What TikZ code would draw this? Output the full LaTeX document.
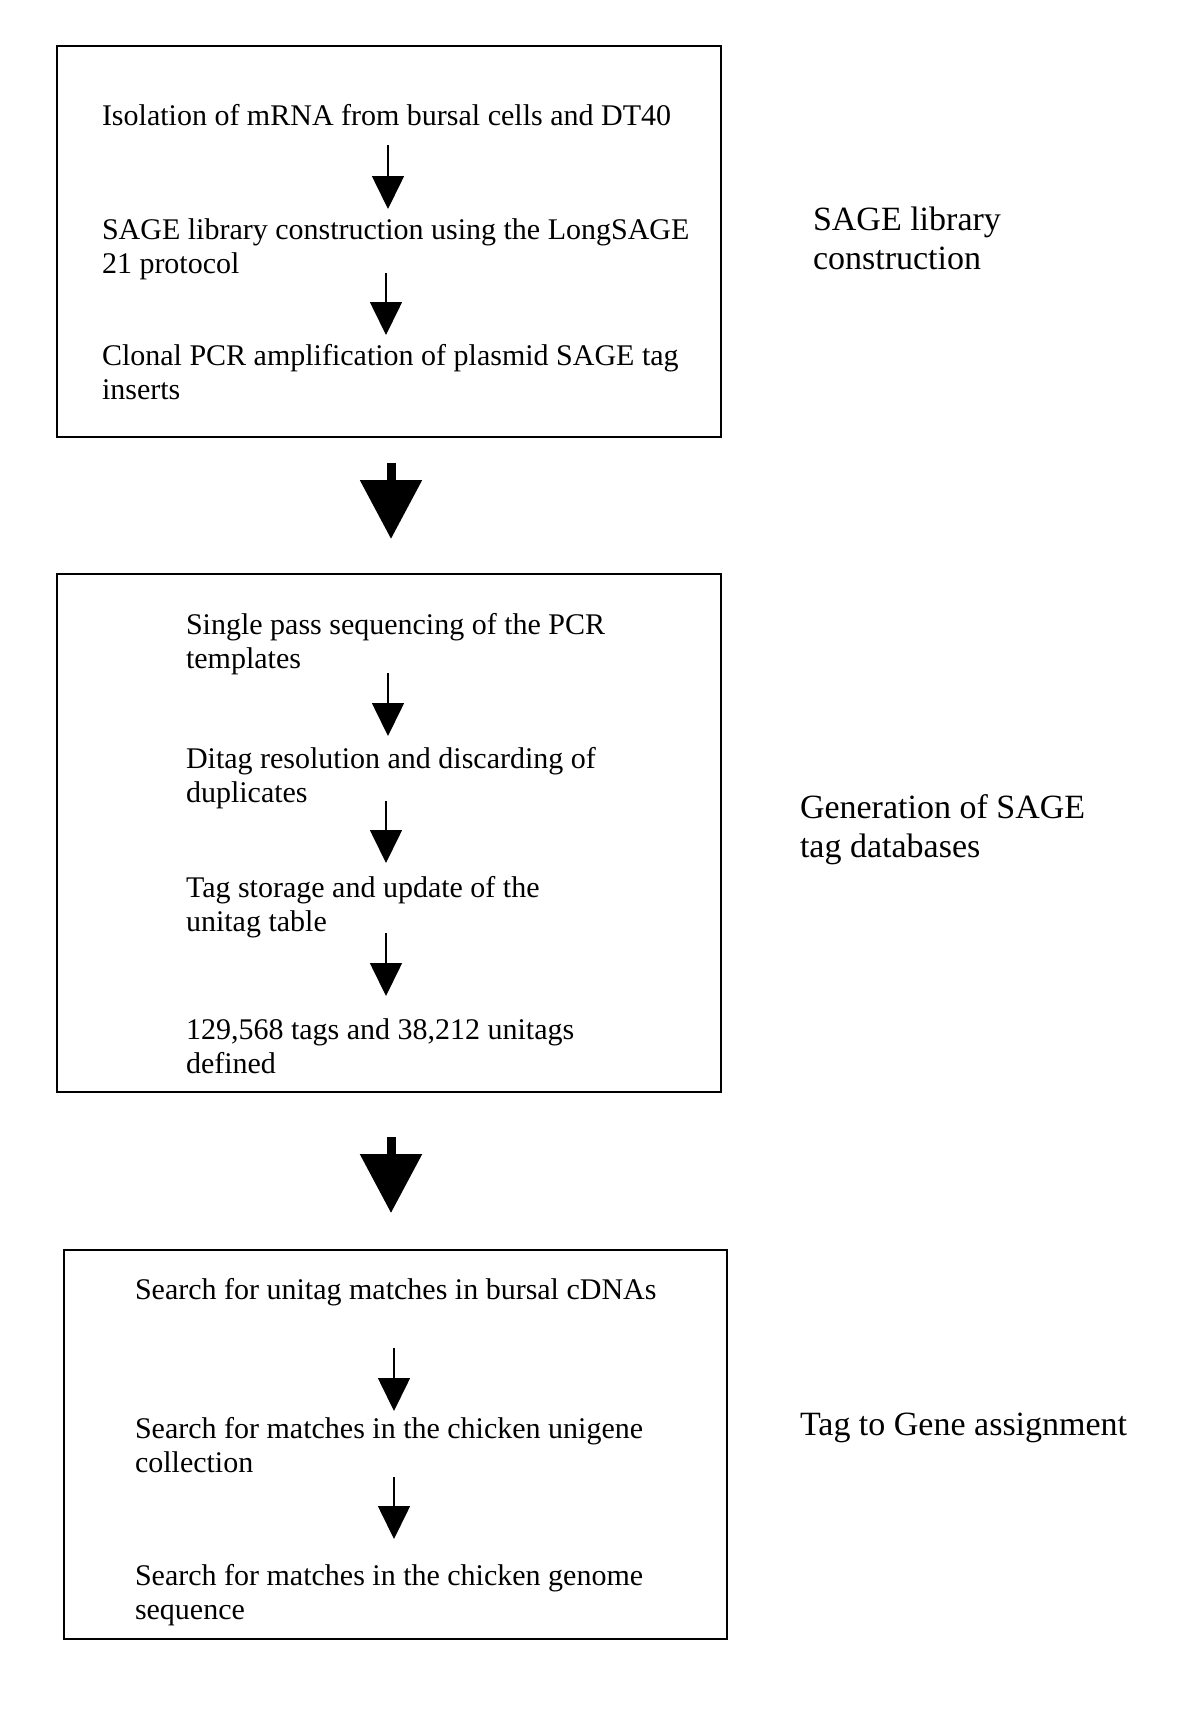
\documentclass[tikz,border=0pt]{standalone}
\usepackage{fontspec}
\setmainfont{Liberation Serif}
\usetikzlibrary{arrows.meta}
\newcommand\twol[2]{\vtop{\hbox{\strut #1}\hbox{\strut #2}}}
\begin{document}
\begin{tikzpicture}[x=0.5pt,y=-0.5pt,
  box/.style={draw,line width=1pt,inner sep=0pt,outer sep=0pt},
  steptext/.style={anchor=base west,inner sep=0pt,outer sep=0pt,font=\fontsize{15}{17}\selectfont},
  phase/.style={anchor=base west,inner sep=0pt,outer sep=0pt,font=\fontsize{17}{19.5}\selectfont},
  sarr/.style={line width=0.8pt,-{Triangle[length=16.5pt,width=16pt]}},
  barr/.style={line width=4.5pt,-{Triangle[length=29.5pt,width=30pt]}}]
\useasboundingbox[fill=white] (0,0) rectangle (1200,1726);

% boxes
\node[box,minimum width=332pt,minimum height=195.5pt] (b1) at (389,241) {};
\node[box,minimum width=332pt,minimum height=259pt] (b2) at (389,833) {};
\node[box,minimum width=331.35pt,minimum height=194.85pt] (b3) at (395.3,1444.4) {};

% axis coordinates
\coordinate (a1) at (388,0);
\coordinate (a2) at (386,0);
\coordinate (a3) at (394,0);
\coordinate (bx) at (391,0);

% box 1
\node[steptext] (s1) at (102,125) {\strut Isolation of mRNA from bursal cells and DT40};
\node[steptext] (s2) at (102,239) {\twol{SAGE library construction using the LongSAGE}{21 protocol}};
\node[steptext] (s3) at (102,365) {\twol{Clonal PCR amplification of plasmid SAGE tag}{inserts}};

% box 2
\node[steptext] (t1) at (186,634) {\twol{Single pass sequencing of the PCR}{templates}};
\node[steptext] (t2) at (186,768) {\twol{Ditag resolution and discarding of}{duplicates}};
\node[steptext] (t3) at (186,897) {\twol{Tag storage and update of the}{unitag table}};
\node[steptext] (t4) at (186,1039) {\twol{129,568 tags and 38,212 unitags}{defined}};

% box 3
\node[steptext] (u1) at (135,1299) {\strut Search for unitag matches in bursal cDNAs};
\node[steptext] (u2) at (135,1438) {\twol{Search for matches in the chicken unigene}{collection}};
\node[steptext] (u3) at (135,1585) {\twol{Search for matches in the chicken genome}{sequence}};

% phase labels
\node[phase] (p1) at (813,230) {\vtop{\hbox{\strut SAGE library}\hbox{\strut construction}}};
\node[phase] (p2) at (800,818) {\vtop{\hbox{\strut Generation of SAGE}\hbox{\strut tag databases}}};
\node[phase] (p3) at (800,1435) {\strut Tag to Gene assignment};

% small arrows
\draw[sarr,shorten <=4.9pt,shorten >=3.1pt] (s1.south -| a1) -- (s2.north -| a1);
\draw[sarr,shorten <=-5.1pt,shorten >=3.1pt] (s2.south -| a2) -- (s3.north -| a2);
\draw[sarr,shorten <=-2.6pt,shorten >=4.1pt] (t1.south -| a1) -- (t2.north -| a1);
\draw[sarr,shorten <=-5.6pt,shorten >=5.1pt] (t2.south -| a2) -- (t3.north -| a2);
\draw[sarr,shorten <=-4.1pt,shorten >=9.6pt] (t3.south -| a2) -- (t4.north -| a2);
\draw[sarr,shorten <=19.4pt,shorten >=1.6pt] (u1.south -| a3) -- (u2.north -| a3);
\draw[sarr,shorten <=-2.6pt,shorten >=11.1pt] (u2.south -| a3) -- (u3.north -| a3);

% big arrows
\draw[barr,shorten <=13pt,shorten >=17.5pt] (b1.south -| bx) -- (b2.north -| bx);
\draw[barr,shorten <=22.5pt,shorten >=18.25pt] (b2.south -| bx) -- (b3.north -| bx);
\end{tikzpicture}
\end{document}
